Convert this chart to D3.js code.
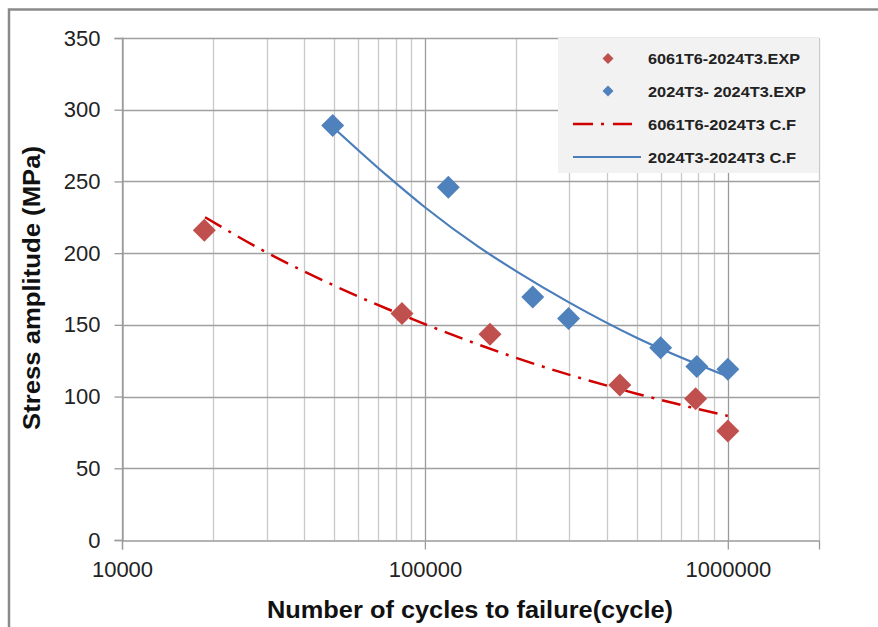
<!DOCTYPE html>
<html>
<head>
<meta charset="utf-8">
<script src="https://cdn.jsdelivr.net/npm/d3@7"></script>
<style>
  html, body { margin: 0; padding: 0; background: #fff; }
  svg { display: block; }
</style>
</head>
<body>
<svg id="chart" width="878" height="627"></svg>
<script>
// ---- data ----
const xTickValues = [10000, 100000, 1000000];
const xTickLabels = ["10000", "100000", "1000000"];
const yTickValues = [0, 50, 100, 150, 200, 250, 300, 350];

// 6061T6-2024T3 experimental points
const redN = [18700, 84000, 164000, 440000, 783000, 1000000];
const redS = [216, 158, 143.5, 108, 98.5, 76];
// 2024T3-2024T3 experimental points
const blueN = [49600, 119500, 227000, 298000, 600000, 790000, 1000000];
const blueS = [289, 246, 169.5, 154.5, 134, 121, 119];

// curve fits
const redFitN = [18800, 30000, 50000, 100000, 200000, 500000, 1000000];
const redFitS = [225, 200.5, 177.5, 150.5, 127, 102, 86.5];
const blueFitN = [49600, 75000, 100000, 150000, 200000, 300000, 500000, 1000000];
const blueFitS = [288, 254, 232, 204.5, 187.5, 165.5, 141, 114];

const legendLabels = ["6061T6-2024T3.EXP", "2024T3- 2024T3.EXP", "6061T6-2024T3 C.F", "2024T3-2024T3 C.F"];

// ---- drawing ----
const svg = d3.select("#chart");
const L = 122, R = 819, T = 38, B = 540;
const x = d3.scaleLog().domain([1e4, 2e6]).range([L, R]);
const y = d3.scaleLinear().domain([0, 350]).range([B, T]);

const redMarker = "#c0504d", blueMarker = "#4f81bd";
const redLine = "#d00000", blueLine = "#4a7ebb";
const font = "'Liberation Sans', Arial, sans-serif";

// outer border
svg.append("path")
  .attr("d", "M9,627 V9.5 H878")
  .attr("fill", "none").attr("stroke", "#8a8a8a").attr("stroke-width", 2.5);

// vertical gridlines (minor + major)
const minorX = [];
for (let d = 1e4; d < 2e6; d *= 10) for (let k = 2; k <= 9; k++) if (d * k <= 2e6) minorX.push(d * k);
svg.append("g").selectAll("line").data(minorX).join("line")
  .attr("x1", d => Math.round(x(d)) + 0.5).attr("x2", d => Math.round(x(d)) + 0.5)
  .attr("y1", T).attr("y2", B)
  .attr("stroke", "#c8c8c8").attr("stroke-width", 1.3);
svg.append("g").selectAll("line").data(xTickValues).join("line")
  .attr("x1", d => Math.round(x(d)) + 0.5).attr("x2", d => Math.round(x(d)) + 0.5)
  .attr("y1", T).attr("y2", B)
  .attr("stroke", "#9a9a9a").attr("stroke-width", 1.3);

// horizontal gridlines
svg.append("g").selectAll("line").data(yTickValues.filter(v => v > 0)).join("line")
  .attr("x1", L).attr("x2", R)
  .attr("y1", d => Math.round(y(d)) + 0.5).attr("y2", d => Math.round(y(d)) + 0.5)
  .attr("stroke", "#a0a0a0").attr("stroke-width", 1.3);

// axes
const yAxis = d3.axisLeft(y).tickValues(yTickValues).tickSize(8).tickPadding(14).tickFormat(d3.format("d"));
const gy = svg.append("g").attr("transform", `translate(${L + 0.5},0)`).call(yAxis);
gy.select(".domain").attr("stroke", "#9a9a9a").attr("stroke-width", 1.3);
gy.selectAll(".tick line").attr("stroke", "#9a9a9a").attr("stroke-width", 1.3);
gy.selectAll(".tick text").attr("font-family", font).attr("font-size", 22).attr("fill", "#222");

const xAxis = d3.axisBottom(x).tickValues(xTickValues).tickSize(9).tickPadding(12)
  .tickFormat((d, i) => xTickLabels[i]);
const gx = svg.append("g").attr("transform", `translate(0,${B + 0.5})`).call(xAxis);
gx.select(".domain").attr("stroke", "#9a9a9a").attr("stroke-width", 1.3);
gx.selectAll(".tick line").attr("stroke", "#9a9a9a").attr("stroke-width", 1.3);
gx.selectAll(".tick text").attr("font-family", font).attr("font-size", 22).attr("fill", "#222");

// fit lines
const line = d3.line().x(d => x(d[0])).y(d => y(d[1])).curve(d3.curveMonotoneX);
svg.append("path")
  .datum(redFitN.map((n, i) => [n, redFitS[i]]))
  .attr("d", line).attr("fill", "none")
  .attr("stroke", redLine).attr("stroke-width", 2.5)
  .attr("stroke-dasharray", "19,8,3,8");
svg.append("path")
  .datum(blueFitN.map((n, i) => [n, blueFitS[i]]))
  .attr("d", line).attr("fill", "none")
  .attr("stroke", blueLine).attr("stroke-width", 2.2);

// markers
const diamond = (cx, cy, r) => `M${cx},${cy - r}L${cx + r},${cy}L${cx},${cy + r}L${cx - r},${cy}Z`;
svg.append("g").selectAll("path").data(redN.map((n, i) => [n, redS[i]])).join("path")
  .attr("d", d => diamond(x(d[0]), y(d[1]), 11.5)).attr("fill", redMarker);
svg.append("g").selectAll("path").data(blueN.map((n, i) => [n, blueS[i]])).join("path")
  .attr("d", d => diamond(x(d[0]), y(d[1]), 11.5)).attr("fill", blueMarker);

// legend
const lg = svg.append("g");
lg.append("rect").attr("x", 558).attr("y", T).attr("width", R - 558).attr("height", 135)
  .attr("fill", "#f2f2f2");
const rowsY = [58.5, 91, 124, 157];
lg.append("path").attr("d", diamond(608, rowsY[0], 5.5)).attr("fill", redMarker);
lg.append("path").attr("d", diamond(608, rowsY[1], 5.5)).attr("fill", blueMarker);
lg.append("line").attr("x1", 573).attr("x2", 632).attr("y1", rowsY[2]).attr("y2", rowsY[2])
  .attr("stroke", redLine).attr("stroke-width", 2.5).attr("stroke-dasharray", "20,8,3,9");
lg.append("line").attr("x1", 573).attr("x2", 641).attr("y1", rowsY[3]).attr("y2", rowsY[3])
  .attr("stroke", blueLine).attr("stroke-width", 2.2);
const legendWidths = [152, 158, 148, 148];
lg.selectAll("text").data(legendLabels).join("text")
  .attr("x", 648).attr("y", (d, i) => rowsY[i] + 5.5)
  .attr("font-family", font).attr("font-weight", "bold").attr("font-size", 15)
  .attr("fill", "#222")
  .attr("textLength", (d, i) => legendWidths[i]).attr("lengthAdjust", "spacingAndGlyphs")
  .text(d => d);

// axis titles
svg.append("text")
  .attr("x", 470).attr("y", 618)
  .attr("text-anchor", "middle")
  .attr("font-family", font).attr("font-weight", "bold").attr("font-size", 23)
  .attr("fill", "#111")
  .attr("textLength", 406).attr("lengthAdjust", "spacingAndGlyphs")
  .text("Number of cycles to failure(cycle)");
svg.append("text")
  .attr("transform", "translate(40,288) rotate(-90)")
  .attr("text-anchor", "middle")
  .attr("font-family", font).attr("font-weight", "bold").attr("font-size", 23)
  .attr("fill", "#111")
  .attr("textLength", 284).attr("lengthAdjust", "spacingAndGlyphs")
  .text("Stress amplitude (MPa)");
</script>
</body>
</html>
